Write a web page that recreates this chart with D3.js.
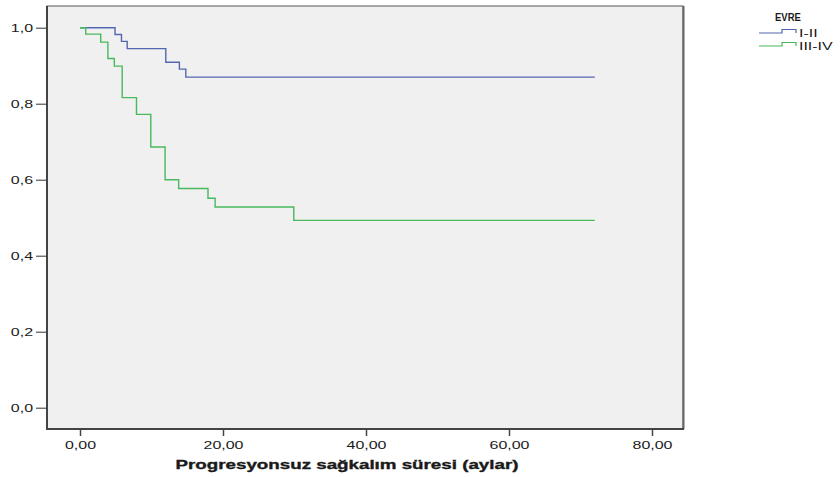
<!DOCTYPE html>
<html>
<head>
<meta charset="utf-8">
<script src="https://cdn.jsdelivr.net/npm/d3@7/dist/d3.min.js"></script>
<style>
  html, body { margin: 0; padding: 0; background: #fff; }
  svg { display: block; }
  text { font-family: "Liberation Sans", Arial, sans-serif; fill: #1a1a1a; }
</style>
</head>
<body>
<svg id="chart" width="840" height="477"></svg>
<script>
// Kaplan-Meier progression-free survival by stage (EVRE)
const groupNames = ["I-II", "III-IV"];
const groupColors = ["#5566b0", "#48b95c"];

// I-II: event times (months) and cumulative survival
const timesI = [0, 4.9, 5.8, 6.6, 12.0, 13.9, 14.8, 72];
const survI  = [1.0, 0.982, 0.964, 0.945, 0.909, 0.891, 0.870, 0.870];

// III-IV
const timesIII = [0, 0.8, 2.9, 3.9, 4.8, 5.9, 7.9, 9.9, 11.9, 13.8, 17.9, 18.9, 29.9, 72];
const survIII  = [1.0, 0.983, 0.962, 0.919, 0.899, 0.816, 0.772, 0.686, 0.600, 0.577, 0.551, 0.528, 0.493, 0.493];

const xTicks = [0, 20, 40, 60, 80];
const yTicks = [0, 0.2, 0.4, 0.6, 0.8, 1.0];
const xTitle = "Progresyonsuz sağkalım süresi (aylar)";
const legendTitle = "EVRE";

const svg = d3.select("#chart");
const stretch = 1.45; // horizontal text widening

const frame = { left: 47, right: 683, top: 6, bottom: 429 };
const x = d3.scaleLinear().domain([0, 80]).range([80, 652]);
const y = d3.scaleLinear().domain([0, 1]).range([407.7, 27.7]);

// widen a text selection horizontally
function widen(sel, k) {
  sel.each(function() {
    const w = this.getComputedTextLength();
    d3.select(this).attr("textLength", w * k).attr("lengthAdjust", "spacingAndGlyphs");
  });
}

// plot panel
svg.append("rect")
  .attr("x", frame.left).attr("y", frame.top)
  .attr("width", frame.right - frame.left).attr("height", frame.bottom - frame.top)
  .attr("fill", "#f0f0f0").attr("stroke", "#555").attr("stroke-width", 1);
svg.append("line").attr("x1", frame.right + 0.5).attr("x2", frame.right + 0.5)
  .attr("y1", frame.top).attr("y2", frame.bottom).attr("stroke", "#666").attr("stroke-width", 2);
svg.append("line").attr("x1", frame.left).attr("x2", frame.left)
  .attr("y1", frame.top).attr("y2", frame.bottom + 1).attr("stroke", "#444").attr("stroke-width", 2);
svg.append("line").attr("x1", frame.left).attr("x2", frame.right + 1)
  .attr("y1", frame.bottom).attr("y2", frame.bottom).attr("stroke", "#444").attr("stroke-width", 2);

// y axis
const yAxis = svg.append("g").attr("transform", `translate(${frame.left - 1},0)`)
  .call(d3.axisLeft(y).tickValues(yTicks).tickSize(10).tickPadding(3)
    .tickFormat(d => d.toFixed(1).replace(".", ",")));
yAxis.select(".domain").remove();
yAxis.selectAll(".tick line").attr("stroke", "#333");
yAxis.selectAll(".tick text").attr("font-size", 11).attr("fill", "#1a1a1a")
  .attr("font-family", "Liberation Sans, Arial, sans-serif").call(widen, stretch);

// x axis
const xAxis = svg.append("g").attr("transform", `translate(0,${frame.bottom + 1})`)
  .call(d3.axisBottom(x).tickValues(xTicks).tickSize(6).tickPadding(5)
    .tickFormat(d => d.toFixed(2).replace(".", ",")));
xAxis.select(".domain").remove();
xAxis.selectAll(".tick line").attr("stroke", "#444").attr("stroke-width", 1.5);
xAxis.selectAll(".tick text").attr("font-size", 11).attr("fill", "#1a1a1a")
  .attr("font-family", "Liberation Sans, Arial, sans-serif").call(widen, stretch);

// x axis title
svg.append("text")
  .attr("x", 347).attr("y", 469).attr("text-anchor", "middle")
  .attr("font-size", 12.5).attr("font-weight", "bold")
  .attr("stroke", "#1a1a1a").attr("stroke-width", 0.35)
  .text(xTitle).call(widen, 1.5);

// survival curves
const line = d3.line().x(d => x(d[0])).y(d => y(d[1])).curve(d3.curveStepAfter);
const series = [d3.zip(timesI, survI), d3.zip(timesIII, survIII)];
series.forEach((pts, i) => {
  svg.append("path").datum(pts)
    .attr("d", line).attr("fill", "none")
    .attr("stroke", groupColors[i]).attr("stroke-width", 1.4);
});

// legend
const lg = svg.append("g");
lg.append("text").attr("x", 775).attr("y", 21).attr("font-size", 10)
  .attr("font-weight", "bold").text(legendTitle).call(widen, 0.95);
groupNames.forEach((name, i) => {
  const base = 33 + i * 13;
  lg.append("path")
    .attr("d", `M759,${base} H782 V${base - 3.5} H796 V${base}`)
    .attr("fill", "none").attr("stroke", groupColors[i]).attr("stroke-width", 1.2);
  lg.append("text").attr("x", 799).attr("y", base + 4).attr("font-size", 11)
    .text(name).call(widen, stretch);
});
</script>
</body>
</html>
